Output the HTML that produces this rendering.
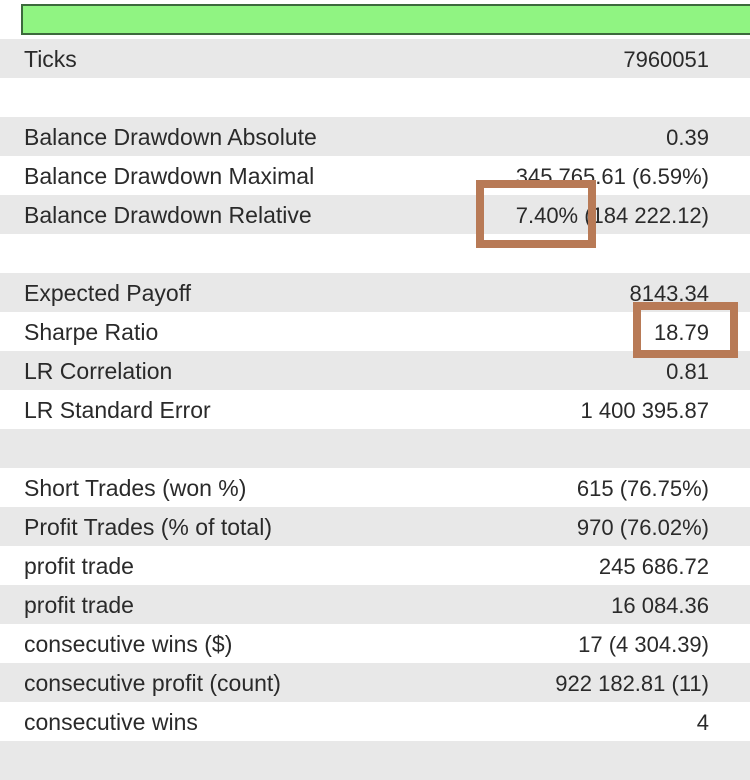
<!DOCTYPE html>
<html><head><meta charset="utf-8"><style>
body{margin:0;width:750px;height:774px;background:#fff;overflow:hidden;position:relative;font-family:"Liberation Sans",sans-serif;color:#2a2a2a}
.bar{position:absolute;left:21px;top:4px;width:740px;height:27px;background:#90f482;border:2px solid #3c6a3c}
.row{position:absolute;left:0;width:750px;height:39px}
.g{background:#e8e8e8}
.l{position:absolute;left:24px;top:7px;font-size:23px;white-space:nowrap}
.v{position:absolute;right:41px;top:8px;font-size:22px;white-space:nowrap}
.box{position:absolute;border:8px solid #b87a56;box-sizing:border-box}
</style></head><body>
<div class="bar"></div>
<div id="rows"></div>
<div class="box" style="left:476px;top:180px;width:120px;height:68px"></div>
<div class="box" style="left:633px;top:302px;width:105px;height:56px"></div>
<script>
const labels=["Ticks","","Balance Drawdown Absolute","Balance Drawdown Maximal","Balance Drawdown Relative","","Expected Payoff","Sharpe Ratio","LR Correlation","LR Standard Error","","Short Trades (won %)","Profit Trades (% of total)","profit trade","profit trade","consecutive wins ($)","consecutive profit (count)","consecutive wins",""];
const values=["7960051","","0.39","345 765.61 (6.59%)","7.40% (184 222.12)","","8143.34","18.79","0.81","1 400 395.87","","615 (76.75%)","970 (76.02%)","245 686.72","16 084.36","17 (4 304.39)","922 182.81 (11)","4",""];
const c=document.getElementById('rows');
labels.forEach((t,i)=>{
 const r=document.createElement('div');
 r.className='row'+(i%2===0?' g':'');
 r.style.top=(39+39*i)+'px';
 
 
 if(t){
  const a=document.createElement('div');a.className='l';a.textContent=t;
  
  
  const b=document.createElement('div');b.className='v';b.textContent=values[i];
  
  
  r.appendChild(a);r.appendChild(b);
 }
 c.appendChild(r);
});
</script>
</body></html>
